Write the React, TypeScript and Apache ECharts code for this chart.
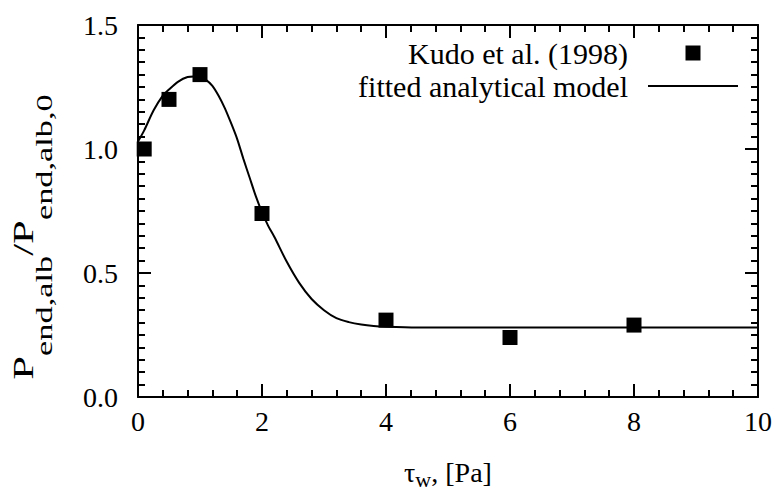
import React, { useEffect, useRef } from "react";
import * as echarts from "echarts";

// ---- data ----
const kudoTau = [0.1, 0.5, 1.0, 2.0, 4.0, 6.0, 8.0];
const kudoRatio = [1.0, 1.2, 1.3, 0.74, 0.31, 0.24, 0.29];

const modelTau = [
  0, 0.1, 0.25, 0.4, 0.5, 0.65, 0.8, 0.9, 1.0, 1.1, 1.2, 1.3, 1.4, 1.5, 1.6,
  1.7, 1.8, 1.9, 2.0, 2.1, 2.2, 2.4, 2.6, 2.8, 3.0, 3.2, 3.4, 3.6, 3.8, 4.0,
  4.5, 5, 6, 7, 8, 9, 10,
];
const modelRatio = [
  1.03, 1.075, 1.155, 1.215, 1.24, 1.272, 1.29, 1.292, 1.288, 1.278, 1.255,
  1.215, 1.165, 1.105, 1.04, 0.96, 0.885, 0.81, 0.745, 0.69, 0.645, 0.545,
  0.46, 0.395, 0.35, 0.318, 0.302, 0.292, 0.286, 0.283, 0.28, 0.28, 0.28,
  0.28, 0.28, 0.28, 0.28,
];

const seriesNames = ["Kudo et al. (1998)", "fitted analytical model"];

// axes: ranges, steps and minor subdivisions per step
const xRange = [0, 10];
const xStep = 2;
const xMinorPerStep = 5;
const yRange = [0, 1.5];
const yStep = 0.5;
const yMinorPerStep = 10;

const FONT = '"Liberation Serif", "Times New Roman", "DejaVu Serif", serif';

const MAJOR_LEN = 13;
const MINOR_LEN = 7;
const TICK_W = 2;

function makeXAxis(position: "bottom" | "top") {
  const bottom = position === "bottom";
  return {
    type: "value",
    position,
    min: xRange[0],
    max: xRange[1],
    interval: xStep,
    axisLine: { show: true, onZero: false, lineStyle: { color: "#000", width: 2 } },
    axisTick: { show: true, inside: true, length: MAJOR_LEN, lineStyle: { color: "#000", width: TICK_W } },
    minorTick: {
      show: true,
      splitNumber: xMinorPerStep,
      length: MINOR_LEN,
      lineStyle: { color: "#000", width: TICK_W },
    },
    splitLine: { show: false },
    minorSplitLine: { show: false },
    axisLabel: {
      show: bottom,
      color: "#000",
      fontSize: 28,
      fontFamily: FONT,
      margin: 10,
    },
    name: bottom ? "{m|τ}{s|w}{m|, [Pa]}" : "",
    nameLocation: "middle",
    nameGap: 61,
    nameTextStyle: {
      color: "#000",
      fontFamily: FONT,
      fontSize: 28,
      rich: {
        m: { fontFamily: FONT, fontSize: 28, lineHeight: 28, color: "#000", verticalAlign: "top" },
        s: { fontFamily: FONT, fontSize: 22, lineHeight: 32, color: "#000", verticalAlign: "bottom" },
      },
    },
  };
}

function makeYAxis(position: "left" | "right") {
  const left = position === "left";
  return {
    type: "value",
    position,
    min: yRange[0],
    max: yRange[1],
    interval: yStep,
    axisLine: { show: true, onZero: false, lineStyle: { color: "#000", width: 2 } },
    axisTick: { show: true, inside: true, length: MAJOR_LEN, lineStyle: { color: "#000", width: TICK_W } },
    minorTick: {
      show: true,
      splitNumber: yMinorPerStep,
      length: MINOR_LEN,
      lineStyle: { color: "#000", width: TICK_W },
    },
    splitLine: { show: false },
    minorSplitLine: { show: false },
    axisLabel: {
      show: left,
      color: "#000",
      fontSize: 28,
      fontFamily: FONT,
      margin: 20,
      formatter: (v: number) => v.toFixed(1),
    },
  };
}

export default function App() {
  const ref = useRef<HTMLDivElement | null>(null);

  useEffect(() => {
    document.body.style.margin = "0";
    if (!ref.current) return;
    const chart = echarts.init(ref.current, null, { renderer: "svg" });

    const option = {
      animation: false,
      textStyle: { fontFamily: FONT, color: "#000" },
      grid: {
        left: 138,
        right: 16,
        top: 25,
        bottom: 94,
        containLabel: false,
        outerBoundsMode: "none",
      },
      xAxis: [makeXAxis("bottom"), makeXAxis("top")],
      yAxis: [makeYAxis("left"), makeYAxis("right")],
      legend: {
        orient: "vertical",
        right: 31,
        top: 33,
        align: "right",
        itemWidth: 90,
        itemHeight: 15,
        itemGap: 3,
        selectedMode: false,
        data: [
          { name: seriesNames[0], icon: "path://M0 0H10V10H0Z" },
          { name: seriesNames[1], icon: "path://M0 0H90V2H0Z" },
        ],
        textStyle: {
          color: "#000",
          fontFamily: FONT,
          fontSize: 30,
          lineHeight: 30,
          padding: [0, 15, 0, 0],
        },
      },
      graphic: [
        {
          type: "text",
          x: 32,
          y: 237,
          rotation: Math.PI / 2,
          scaleX: 1.43,
          scaleY: 1,
          style: {
            text: "{m|P}{s|end,alb}{m|/P}{s|end,alb,0}",
            align: "center",
            verticalAlign: "middle",
            fill: "#000",
            fontFamily: FONT,
            fontSize: 30,
            rich: {
              m: { fill: "#000", fontFamily: FONT, fontSize: 30, lineHeight: 30, verticalAlign: "top" },
              s: { fill: "#000", fontFamily: FONT, fontSize: 24, lineHeight: 48, verticalAlign: "bottom" },
            },
          },
        },
      ],
      series: [
        {
          name: seriesNames[1],
          type: "line",
          xAxisIndex: 0,
          yAxisIndex: 0,
          data: modelTau.map((t, i) => [t, modelRatio[i]]),
          smooth: 0.3,
          symbol: "none",
          lineStyle: { color: "#000", width: 2 },
          itemStyle: { color: "#000" },
          z: 2,
        },
        {
          name: seriesNames[0],
          type: "scatter",
          xAxisIndex: 0,
          yAxisIndex: 0,
          data: kudoTau.map((t, i) => [t, kudoRatio[i]]),
          symbol: "rect",
          symbolSize: 15,
          itemStyle: { color: "#000", opacity: 1 },
          z: 3,
        },
      ],
    };

    chart.setOption(option as any);
    return () => chart.dispose();
  }, []);

  return <div ref={ref} style={{ width: 774, height: 491 }} />;
}
